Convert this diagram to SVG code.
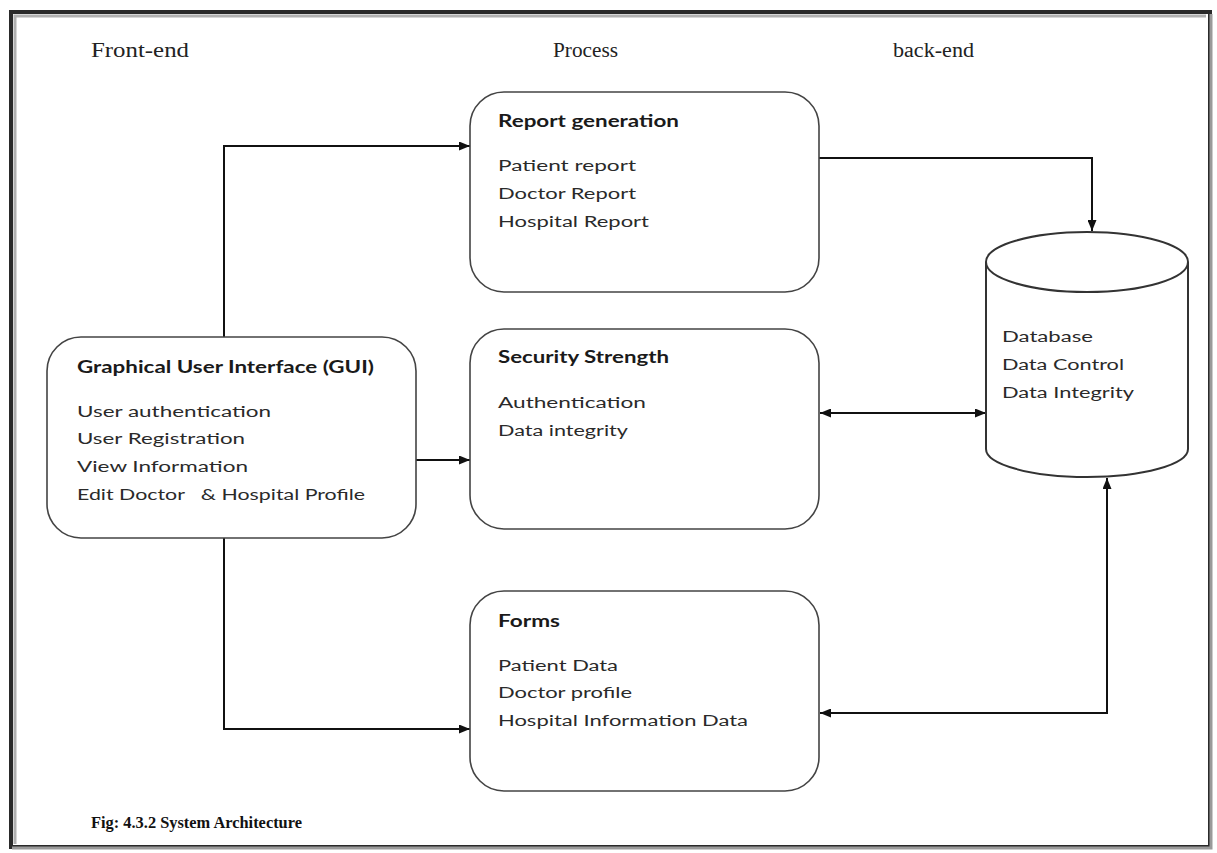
<svg xmlns="http://www.w3.org/2000/svg" width="1217" height="853" viewBox="0 0 1217 853">
<style>
.hdr{font-family:"Liberation Serif","Times New Roman",serif;font-size:20px;fill:#222}
.cap{font-family:"Liberation Serif","Times New Roman",serif;font-size:16.5px;font-weight:bold;fill:#111}
.ttl{font-family:Lato,"Liberation Sans",sans-serif;font-size:16.5px;font-weight:bold;fill:#1a1a1a}
.itm{font-family:Lato,"Liberation Sans",sans-serif;font-size:15.5px;fill:#2a2a2a}
.box{fill:#fff;stroke:#444;stroke-width:1.6}
.cyl{fill:#fff;stroke:#333;stroke-width:2}
.con{fill:none;stroke:#111;stroke-width:2}
</style>
<defs>
<marker id="ah" viewBox="0 0 11 9" refX="11" refY="4.5" markerWidth="11" markerHeight="9" markerUnits="userSpaceOnUse" orient="auto-start-reverse">
<path d="M0,0 L11,4.5 L0,9 z" fill="#111"/>
</marker>
</defs>
<rect x="0" y="0" width="1217" height="853" fill="#fff"/>
<g id="frame">
<rect x="11" y="12" width="1199" height="835" fill="none" stroke="#2a2a2a" stroke-width="4"/>
<path d="M15,844 V16 H1206" fill="none" stroke="#b0b0b0" stroke-width="3"/>
<path d="M1211,14 V848 H12" fill="none" stroke="#9a9a9a" stroke-width="3"/>
</g>
<g id="headers">
<text class="hdr" x="91" y="57" textLength="98" lengthAdjust="spacingAndGlyphs">Front-end</text>
<text class="hdr" x="553" y="57" textLength="65" lengthAdjust="spacingAndGlyphs">Process</text>
<text class="hdr" x="893" y="57" textLength="81" lengthAdjust="spacingAndGlyphs">back-end</text>
</g>
<g id="connectors">
<path class="con" d="M224,337 V146 H470" marker-end="url(#ah)"/>
<path class="con" d="M416,460 H470" marker-end="url(#ah)"/>
<path class="con" d="M224,538 V729 H470" marker-end="url(#ah)"/>
<path class="con" d="M819,158 H1092 V231" marker-end="url(#ah)"/>
<path class="con" d="M820,413 H986" marker-start="url(#ah)" marker-end="url(#ah)"/>
<path class="con" d="M1107,478 V713 H820" marker-start="url(#ah)" marker-end="url(#ah)"/>
</g>
<g id="gui">
<rect class="box" x="47" y="337" width="369" height="201" rx="34" ry="34"/>
<text class="ttl" x="77" y="373" textLength="297" lengthAdjust="spacingAndGlyphs">Graphical User Interface (GUI)</text>
<text class="itm" x="77" y="417" textLength="194" lengthAdjust="spacingAndGlyphs">User authentication</text>
<text class="itm" x="77" y="444" textLength="168" lengthAdjust="spacingAndGlyphs">User Registration</text>
<text class="itm" x="77" y="472" textLength="171" lengthAdjust="spacingAndGlyphs">View Information</text>
<text class="itm" x="77" y="500" textLength="288" lengthAdjust="spacingAndGlyphs" xml:space="preserve">Edit Doctor   &amp; Hospital Profile</text>
</g>
<g id="report">
<rect class="box" x="470" y="92" width="349" height="200" rx="34" ry="34"/>
<text class="ttl" x="498" y="127" textLength="181" lengthAdjust="spacingAndGlyphs">Report generation</text>
<text class="itm" x="498" y="171" textLength="138" lengthAdjust="spacingAndGlyphs">Patient report</text>
<text class="itm" x="498" y="199" textLength="138" lengthAdjust="spacingAndGlyphs">Doctor Report</text>
<text class="itm" x="498" y="227" textLength="151" lengthAdjust="spacingAndGlyphs">Hospital Report</text>
</g>
<g id="security">
<rect class="box" x="470" y="329" width="349" height="200" rx="34" ry="34"/>
<text class="ttl" x="498" y="363" textLength="171" lengthAdjust="spacingAndGlyphs">Security Strength</text>
<text class="itm" x="498" y="408" textLength="148" lengthAdjust="spacingAndGlyphs">Authentication</text>
<text class="itm" x="498" y="436" textLength="130" lengthAdjust="spacingAndGlyphs">Data integrity</text>
</g>
<g id="forms">
<rect class="box" x="470" y="591" width="349" height="200" rx="34" ry="34"/>
<text class="ttl" x="498" y="627" textLength="62" lengthAdjust="spacingAndGlyphs">Forms</text>
<text class="itm" x="498" y="671" textLength="120" lengthAdjust="spacingAndGlyphs">Patient Data</text>
<text class="itm" x="498" y="698" textLength="134" lengthAdjust="spacingAndGlyphs">Doctor profile</text>
<text class="itm" x="498" y="726" textLength="250" lengthAdjust="spacingAndGlyphs">Hospital Information Data</text>
</g>
<g id="database">
<path class="cyl" d="M986,262 V449 A101,28 0 0 0 1188,449 V262"/>
<ellipse class="cyl" cx="1087" cy="262" rx="101" ry="30"/>
<text class="itm" x="1002" y="342" textLength="91" lengthAdjust="spacingAndGlyphs">Database</text>
<text class="itm" x="1002" y="370" textLength="122" lengthAdjust="spacingAndGlyphs">Data Control</text>
<text class="itm" x="1002" y="398" textLength="132" lengthAdjust="spacingAndGlyphs">Data Integrity</text>
</g>
<g id="caption">
<text class="cap" x="91" y="828" textLength="211" lengthAdjust="spacingAndGlyphs">Fig: 4.3.2 System Architecture</text>
</g>
</svg>
